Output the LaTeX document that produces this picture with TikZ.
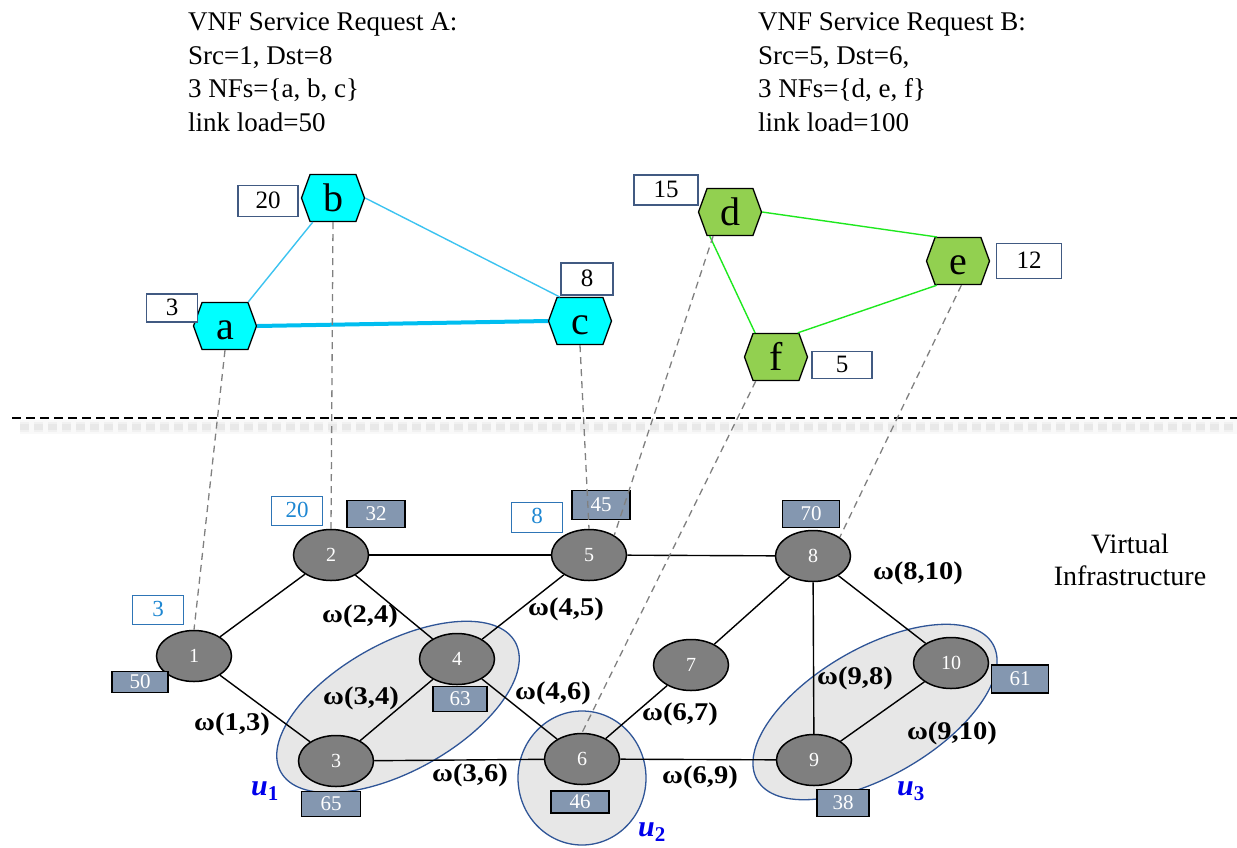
\documentclass[tikz,border=0pt]{standalone}
\usepackage{fontspec}
\setmainfont{Liberation Serif}
\usetikzlibrary{shapes.geometric,shapes.symbols}

\definecolor{hexcyan}{RGB}{0,255,255}
\definecolor{cyanedge}{RGB}{60,195,240}
\definecolor{cyanthick}{RGB}{0,190,240}
\definecolor{hexgreen}{RGB}{146,208,80}
\definecolor{greenedge}{RGB}{30,232,30}
\definecolor{tagframe}{RGB}{65,90,130}
\definecolor{vnodefill}{RGB}{127,127,127}
\definecolor{loadfill}{RGB}{132,151,176}
\definecolor{demandframe}{RGB}{46,117,182}
\definecolor{demandtext}{RGB}{30,135,210}
\definecolor{clusterfill}{RGB}{231,231,231}
\definecolor{clusterline}{RGB}{47,85,151}
\definecolor{mapgray}{RGB}{128,128,128}
\definecolor{ublue}{RGB}{0,0,235}

\begin{document}
\begin{tikzpicture}[x=1pt,y=-1pt,
  hexnf/.style={signal, signal to=east and west, signal pointer angle=140,
    draw=black, line width=1.3pt, minimum width=63pt, minimum height=47pt,
    inner sep=0pt, text height=27pt, text depth=0pt,
    font=\fontsize{40}{40}\selectfont},
  tagbox/.style={draw=tagframe, line width=1.2pt, fill=white, inner sep=0pt,
    text height=17pt, text depth=3pt, font=\fontsize{25}{25}\selectfont},
  vnode/.style={ellipse, draw=black, line width=1.5pt, fill=vnodefill,
    text=white, minimum width=75pt, minimum height=51pt, inner sep=0pt,
    font=\fontsize{20}{20}\selectfont},
  loadbox/.style={draw=black, line width=1.6pt, fill=loadfill, text=white,
    inner sep=0pt, text height=14pt, text depth=2pt,
    font=\fontsize{21}{21}\selectfont},
  demandbox/.style={draw=demandframe, line width=1pt, fill=white,
    text=demandtext, inner sep=0pt, text height=15.5pt, text depth=2pt,
    font=\fontsize{23}{23}\selectfont},
  cluster/.style={ellipse, draw=clusterline, line width=1.3pt,
    fill=clusterfill, inner sep=0pt},
  vedge/.style={draw=black, line width=1.4pt},
  wlabel/.style={inner sep=0pt, xscale=1.12,
    font=\bfseries\fontsize{25.5}{25.5}\selectfont},
  ulabel/.style={inner sep=0pt, anchor=base west, text=ublue,
    font=\bfseries\itshape\fontsize{30}{30}\selectfont},
  mapline/.style={draw=mapgray, line width=1.3pt, dash pattern=on 7pt off 5pt},
  sepline/.style={draw=black, line width=2.2pt, dash pattern=on 9pt off 5pt},
  reqtext/.style={align=left, inner sep=0pt, anchor=north west,
    font=\fontsize{27}{33.5}\selectfont}
]
\useasboundingbox (0,0) rectangle (1237,847);

% ---------- request texts ----------
\node[reqtext] (reqA) at (188,12.5)
  {VNF Service Request A:\\Src=1, Dst=8\\3 NFs=\{a, b, c\}\\link load=50};
\node[reqtext] (reqB) at (758,12.5)
  {VNF Service Request B:\\Src=5, Dst=6,\\3 NFs=\{d, e, f\}\\link load=100};

% ---------- service chain A ----------
\node[hexnf, fill=hexcyan] (a) at (225,326) {a};
\node[hexnf, fill=hexcyan] (b) at (333,198) {b};
\node[hexnf, fill=hexcyan] (c) at (580,321) {c};
\draw[cyanedge, line width=1.4pt] (a.46) -- (b.-130);
\draw[cyanedge, line width=1.4pt] (b.east) -- (c.130);
\draw[cyanthick, line width=4pt] (a.east) -- (c.west);
\node[tagbox, minimum width=51pt, minimum height=28pt] (ta) at (172,308) {3};
\node[tagbox, minimum width=60pt, minimum height=31pt] (tb) at (268,201) {20};
\node[tagbox, minimum width=52pt, minimum height=32pt] (tc) at (587,279) {8};

% ---------- service chain B ----------
\node[hexnf, fill=hexgreen] (d) at (730,212) {d};
\node[hexnf, fill=hexgreen] (e) at (958,261) {e};
\node[hexnf, fill=hexgreen] (f) at (776,357) {f};
\draw[greenedge, line width=1.4pt] (d.east) -- (e.131);
\draw[greenedge, line width=1.4pt] (d.-130) -- (f.131);
\draw[greenedge, line width=1.4pt] (f.48) -- (e.-131);
\node[tagbox, minimum width=64pt, minimum height=30pt] (td) at (666,190) {15};
\node[tagbox, minimum width=65pt, minimum height=35pt] (te) at (1029,261) {12};
\node[tagbox, minimum width=60pt, minimum height=27pt] (tf) at (842,365) {5};

% ---------- separator with soft shadow ----------
\coordinate (sepL) at (12,418);
\coordinate (sepR) at (1237,418);
\coordinate (shL) at (20,427);
\coordinate (shR) at (1237,427);
\draw[black, opacity=0.025, line width=14pt] (shL) -- (shR);
\draw[black, opacity=0.03, line width=10pt, dash pattern=on 9pt off 5pt] (shL) -- (shR);
\draw[black, opacity=0.035, line width=6pt, dash pattern=on 9pt off 5pt] (shL) -- (shR);
\draw[sepline] (sepL) -- (sepR);

% ---------- clusters ----------
\node[cluster, rotate=29, minimum width=268pt, minimum height=128pt] (u1c) at (398,707) {};
\node[cluster, minimum width=128pt, minimum height=134pt] (u2c) at (582,778) {};
\node[cluster, rotate=30, minimum width=272pt, minimum height=128pt] (u3c) at (875,712) {};

% ---------- virtual infrastructure ----------
\node[vnode] (n1) at (194,656) {1};
\node[vnode] (n2) at (331,555) {2};
\node[vnode] (n3) at (336,761) {3};
\node[vnode] (n4) at (457,659) {4};
\node[vnode] (n5) at (589,555) {5};
\node[vnode] (n6) at (582,759) {6};
\node[vnode] (n7) at (691,665) {7};
\node[vnode] (n8) at (813,556) {8};
\node[vnode] (n9) at (814,760) {9};
\node[vnode] (n10) at (951,663) {10};

\draw[vedge] (n1) -- (n2);
\draw[vedge] (n1) -- (n3);
\draw[vedge] (n2) -- (n5);
\draw[vedge] (n2) -- (n4);
\draw[vedge] (n4) -- (n5);
\draw[vedge] (n3) -- (n4);
\draw[vedge] (n4) -- (n6);
\draw[vedge] (n3) -- (n6);
\draw[vedge] (n6) -- (n7);
\draw[vedge] (n6) -- (n9);
\draw[vedge] (n5) -- (n8);
\draw[vedge] (n7) -- (n8);
\draw[vedge] (n8) -- (n9);
\draw[vedge] (n8) -- (n10);
\draw[vedge] (n9) -- (n10);

% capacity boxes
\node[loadbox, minimum width=56pt, minimum height=21pt] (l1) at (140,682) {50};
\node[loadbox, minimum width=58pt, minimum height=27pt] (l2) at (376,514) {32};
\node[loadbox, minimum width=59pt, minimum height=25pt] (l3) at (331,804) {65};
\node[loadbox, minimum width=54pt, minimum height=25pt] (l4) at (460,699) {63};
\node[loadbox, minimum width=58pt, minimum height=29pt] (l5) at (601,505) {45};
\node[loadbox, minimum width=58pt, minimum height=22pt] (l6) at (580,802) {46};
\node[loadbox, minimum width=57pt, minimum height=27pt] (l8) at (811,514) {70};
\node[loadbox, minimum width=52pt, minimum height=27pt] (l9) at (843,803) {38};
\node[loadbox, minimum width=57pt, minimum height=28pt] (l10) at (1020,679) {61};

% placed demands
\node[demandbox, minimum width=51pt, minimum height=29pt] (m1) at (158,610) {3};
\node[demandbox, minimum width=51pt, minimum height=29pt] (m2) at (297,511) {20};
\node[demandbox, minimum width=51pt, minimum height=30pt] (m5) at (537,517) {8};

% link weights
\node[wlabel] (w24) at (360,616) {ω(2,4)};
\node[wlabel] (w34) at (361,698) {ω(3,4)};
\node[wlabel] (w13) at (232,724) {ω(1,3)};
\node[wlabel] (w36) at (470,775) {ω(3,6)};
\node[wlabel] (w45) at (566,609) {ω(4,5)};
\node[wlabel] (w46) at (553,693) {ω(4,6)};
\node[wlabel] (w67) at (680,714) {ω(6,7)};
\node[wlabel] (w69) at (700,777) {ω(6,9)};
\node[wlabel] (w98) at (855,678) {ω(9,8)};
\node[wlabel] (w910) at (952,733) {ω(9,10)};
\node[wlabel] (w810) at (918,573) {ω(8,10)};

% cluster names
\node[ulabel] (u1) at (251,795) {u\textsubscript{\upshape 1}};
\node[ulabel] (u2) at (638,836) {u\textsubscript{\upshape 2}};
\node[ulabel] (u3) at (897,795) {u\textsubscript{\upshape 3}};

\node[align=center, inner sep=0pt, anchor=north,
  font=\fontsize{28}{32}\selectfont] (vi) at (1130,534) {Virtual\\Infrastructure};

% ---------- mapping of functions onto nodes ----------
\draw[mapline] (a.south) -- (n1.north);
\draw[mapline] (b.south) -- (n2.north);
\draw[mapline] (c.south) -- (n5.north);
\draw[mapline] (d.-125) -- (n5.38);
\draw[mapline] (f.-130) -- (n6.north);
\draw[mapline] (e.-82) -- (n8.35);
\end{tikzpicture}
\end{document}
